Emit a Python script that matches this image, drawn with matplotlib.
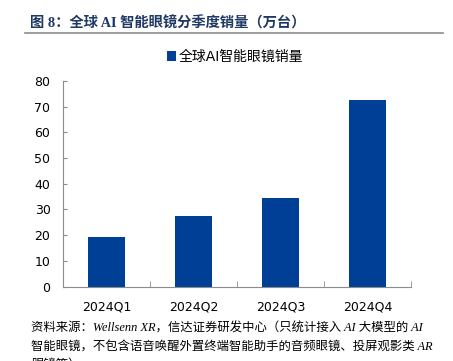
import matplotlib
matplotlib.use("Agg")
import matplotlib.pyplot as plt

plt.rcParams['font.family'] = ['DejaVu Sans', 'Noto Sans CJK SC']

quarters = ["2024Q1", "2024Q2", "2024Q3", "2024Q4"]
sales = [19.4, 27.5, 34.5, 72.4]
series_name = "全球AI智能眼镜销量"
yticks = [0, 10, 20, 30, 40, 50, 60, 70, 80]

title = "图 8：全球 AI 智能眼镜分季度销量（万台）"
note_lines = [
    "资料来源：Wellsenn XR，信达证券研发中心（只统计接入 AI 大模型的 AI",
    "智能眼镜，不包含语音唤醒外置终端智能助手的音频眼镜、投屏观影类 AR",
    "眼镜等）",
]

fig = plt.figure(figsize=(4.53, 3.61), dpi=100)
ax = fig.add_axes([0.139, 0.206, 0.768, 0.570])

x = range(len(quarters))
ax.bar(x, sales, width=0.43, color="#003F96", label=series_name)

ax.set_xlim(-0.5, 3.5)
ax.set_ylim(0, 80)
ax.set_yticks(yticks)
ax.set_xticks(list(x))
ax.set_xticklabels(quarters)
ax.set_xticks([-0.5, 0.5, 1.5, 2.5, 3.5], minor=True)

for s in ["top", "right"]:
    ax.spines[s].set_visible(False)
for s in ["left", "bottom"]:
    ax.spines[s].set_color("#8c8c8c")
    ax.spines[s].set_linewidth(0.8)

ax.tick_params(axis="y", direction="in", length=3, color="#8c8c8c", labelsize=9, pad=9)
ax.tick_params(axis="x", which="major", length=0, labelsize=9, pad=10)
ax.tick_params(axis="x", which="minor", direction="in", length=4, color="#8c8c8c")

fig.legend(loc="center", bbox_to_anchor=(0.519, 0.842), frameon=False,
           handlelength=0.7, handleheight=0.7, handletextpad=0.2,
           prop={"family": ["DejaVu Sans", "Noto Sans CJK SC"], "size": 10})

# title and rule
fig.text(0.066, 0.936, title, fontsize=10.3, fontweight="bold", color="#1F3864",
         family=["Liberation Serif", "Noto Sans CJK SC"], va="center", ha="left")
fig.add_artist(plt.Line2D([0.055, 0.978], [0.909, 0.909], color="#8c8c8c", lw=1.2))

# source note
ys = [0.091, 0.039, -0.010]
for line, yy in zip(note_lines, ys):
    fig.text(0.068, yy, line, fontsize=8.9, style="italic",
             family=["Liberation Serif", "Noto Sans CJK SC"], va="center", ha="left")

fig.savefig("out.png", dpi=100)
